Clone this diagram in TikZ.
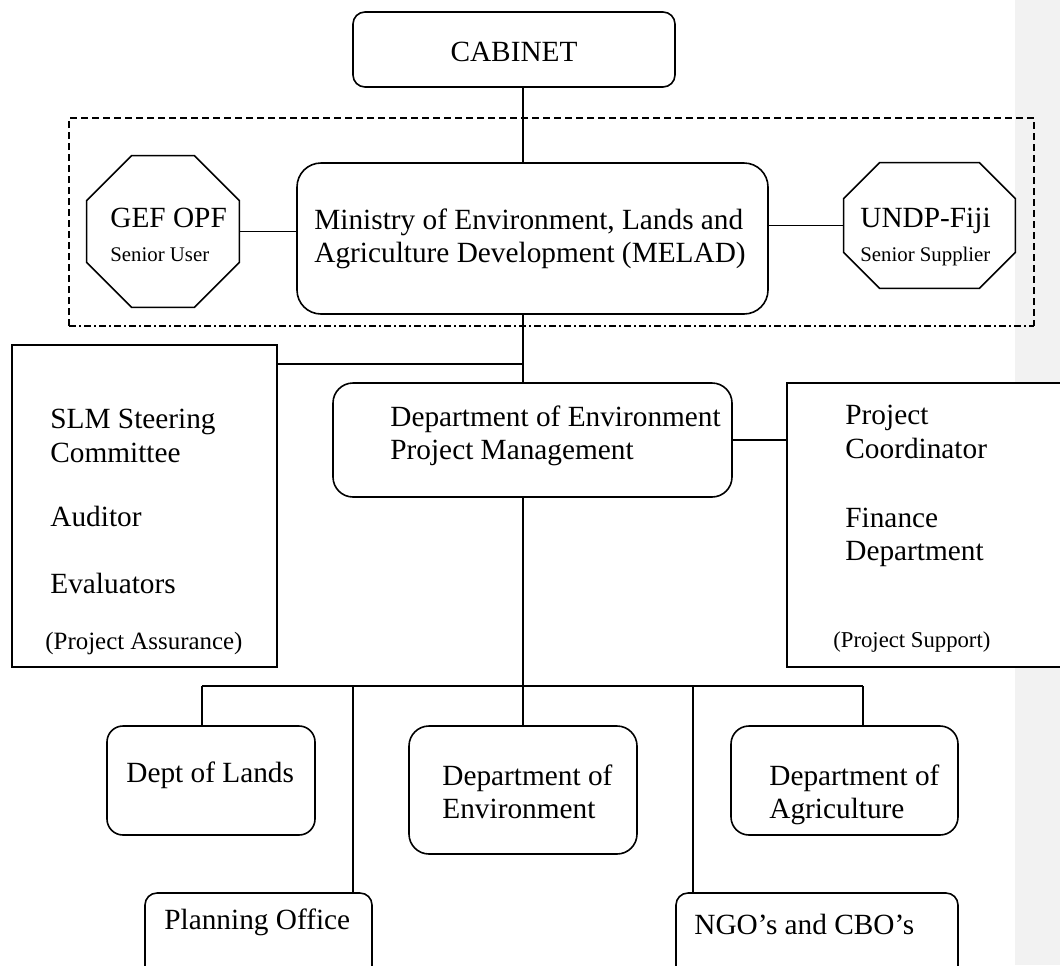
\documentclass[tikz,border=0pt]{standalone}
\usepackage{fontspec}
\setmainfont{Liberation Serif}
\usetikzlibrary{fit, calc}

\newcommand{\drawocta}[2]{%
  \draw[link] ($(#1.north west)+(#2,0)$) -- ($(#1.north east)+(-#2,0)$)
    -- ($(#1.north east)+(0,#2)$) -- ($(#1.south east)+(0,-#2)$)
    -- ($(#1.south east)+(-#2,0)$) -- ($(#1.south west)+(#2,0)$)
    -- ($(#1.south west)+(0,-#2)$) -- ($(#1.north west)+(0,#2)$) -- cycle;}

\begin{document}
\begin{tikzpicture}[
    x=0.5pt, y=-0.5pt,
    link/.style={line width=0.8pt},
    orgbox/.style={draw, line width=0.8pt, inner sep=0pt, rounded corners=#1},
    orgbox/.default=9pt,
    sidebox/.style={draw, fill=white, line width=0.8pt, inner sep=0pt},
    octo/.style={inner sep=0pt},
    txt/.style={inner sep=0pt, align=left, font=\fontsize{14.65pt}{16.75pt}\selectfont}
]
    \useasboundingbox (0,0) rectangle (1060,965);
    \clip (0,0) rectangle (1060,965);
    \fill[black!5] (1015,0) rectangle (1060,965);

    % dashed frame round MELAD and its partners
    \draw[line width=0.7pt, dash pattern=on 3.5pt off 2pt] (69,326) -- (69,118) -- (1034,118) -- (1034,326);
    \draw[line width=0.7pt, dash pattern=on 3.5pt off 1.6pt on 0.8pt off 1.6pt] (69,326) -- (1034,326);

    % top levels
    \node[orgbox=6pt, fit={(353,12) (675,87)}] (cab) {};
    \node[txt] (cabtext) at (514,52) {CABINET};

    \node[orgbox=12pt, fit={(297,163) (768,314)}] (melad) {};
    \node[txt, anchor=north west] (meladtext) at (314,208)
        {Ministry of Environment, Lands and\\Agriculture Development (MELAD)};

    \node[octo, fit={(87,156) (239,307)}] (gef) {};
    \drawocta{gef}{45}
    \node[txt, anchor=north west] (geftext) at (110,208)
        {GEF OPF\\{\fontsize{10.4pt}{12pt}\selectfont Senior User}};

    \node[octo, fit={(844,163) (1015,288)}] (undp) {};
    \drawocta{undp}{36}
    \node[txt, anchor=north west] (undptext) at (860,208)
        {UNDP-Fiji\\{\fontsize{10.4pt}{12pt}\selectfont Senior Supplier}};

    % project management and its two side panels
    \node[orgbox=10pt, fit={(333,383) (732,497)}] (pm) {};
    \node[txt, anchor=north west] (pmtext) at (390,405)
        {Department of Environment\\Project Management};

    \node[sidebox, fit={(12,345) (277,667)}] (ass) {};
    \node[txt, anchor=north west] (asstext) at (50,409)
        {SLM Steering\\Committee\\[15.5pt]Auditor\\[16.75pt]Evaluators\\[11pt]%
         \hspace*{-2.5pt}{\fontsize{12.45pt}{14pt}\selectfont (Project Assurance)}};

    \node[sidebox, fit={(787,383) (1075,667)}] (sup) {};
    \node[txt, anchor=north west] (suptext) at (845,405)
        {Project\\Coordinator\\[17.75pt]Finance\\Department\\[26.6pt]%
         \hspace*{-6pt}{\fontsize{11.35pt}{13pt}\selectfont (Project Support)}};

    % line departments
    \node[orgbox=8pt, fit={(107,726) (315,835)}] (lands) {};
    \node[txt, anchor=west] (landstext) at (126,775) {Dept of Lands};

    \node[orgbox=10pt, fit={(409,726) (637,854)}] (env) {};
    \node[txt, anchor=north west] (envtext) at (442,764) {Department of\\Environment};

    \node[orgbox=9pt, fit={(731,726) (958,835)}] (agri) {};
    \node[txt, anchor=north west] (agritext) at (769,764) {Department of\\Agriculture};

    \node[orgbox=6pt, fit={(145,893) (372,990)}] (plan) {};
    \node[txt, anchor=west] (plantext) at (164,922) {Planning Office};

    \node[orgbox=6pt, fit={(676,893) (958,990)}] (ngo) {};
    \node[txt, anchor=west] (ngotext) at (694,924) {NGO’s and CBO’s};

    % connectors
    \coordinate (spine) at (523,0);
    \coordinate (tee) at (523,364);
    \coordinate (bus) at (523,686);
    \coordinate (landsdrop) at (202,686);
    \coordinate (plandrop) at (353,686);
    \coordinate (ngodrop) at (693,686);
    \coordinate (agridrop) at (863,686);

    \draw[link] (cab.south -| spine) -- (melad.north -| spine);
    \draw[link] (gef.east) -- (gef.east -| melad.west);
    \draw[link] (undp.west -| melad.east) -- (undp.west);
    \draw[link] (melad.south -| spine) -- (pm.north -| spine);
    \draw[link] (tee) -- (tee -| ass.east);
    \draw[link] (pm.east) -- (pm.east -| sup.west);
    \draw[link] (pm.south -| spine) -- (env.north -| spine);
    \draw[link] (landsdrop) -- (agridrop);
    \draw[link] (landsdrop) -- (landsdrop |- lands.north);
    \draw[link] (plandrop) -- (plandrop |- plan.north);
    \draw[link] (ngodrop) -- (ngodrop |- ngo.north);
    \draw[link] (agridrop) -- (agridrop |- agri.north);
\end{tikzpicture}
\end{document}
